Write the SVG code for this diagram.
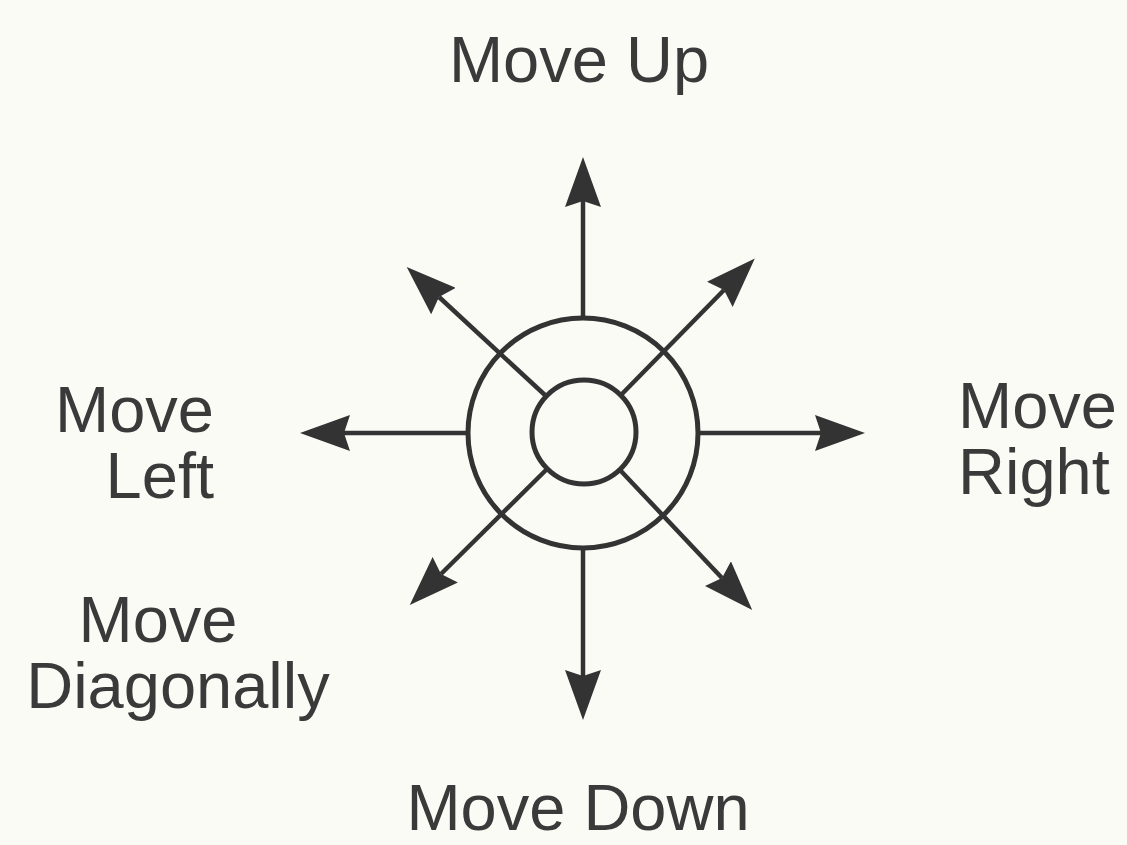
<svg xmlns="http://www.w3.org/2000/svg" width="1127" height="845" viewBox="0 0 1127 845">
  <style>
    .ring { fill: none; stroke: #333333; stroke-width: 5; }
    .conn { fill: none; stroke: #333333; stroke-width: 4.5; marker-end: url(#head); }
    .lbl { font-family: "Liberation Sans", Arial, sans-serif; font-size: 65px; fill: #3a3a3a; }
  </style>
  <defs>
    <marker id="head" viewBox="0 0 50 36" refX="6" refY="18" markerWidth="50" markerHeight="36" markerUnits="userSpaceOnUse" orient="auto">
      <path d="M0,0 L50,18 L0,36 L6,18 Z" fill="#333333"/>
    </marker>
  </defs>
  <rect x="0" y="0" width="1127" height="845" fill="#fbfbf6"/>

  <g id="connectors">
    <line class="conn" x1="583" y1="318" x2="583" y2="201"/>
    <line class="conn" x1="583" y1="548" x2="583" y2="676"/>
    <line class="conn" x1="468" y1="433" x2="344" y2="433"/>
    <line class="conn" x1="698" y1="433" x2="821" y2="433"/>
    <line class="conn" x1="546" y1="396" x2="439" y2="297"/>
    <line class="conn" x1="620" y1="396" x2="724" y2="290"/>
    <line class="conn" x1="546" y1="470" x2="441" y2="574"/>
    <line class="conn" x1="620" y1="470" x2="722" y2="578"/>
  </g>

  <g id="joystick">
    <circle class="ring" cx="583" cy="433" r="115"/>
    <circle class="ring" cx="584" cy="432" r="52"/>
  </g>

  <g id="label-up">
    <text class="lbl" x="579" y="82" text-anchor="middle">Move Up</text>
  </g>
  <g id="label-left">
    <text class="lbl" x="214" y="432" text-anchor="end">Move</text>
    <text class="lbl" x="214" y="498" text-anchor="end">Left</text>
  </g>
  <g id="label-right">
    <text class="lbl" x="958" y="428">Move</text>
    <text class="lbl" x="958" y="494">Right</text>
  </g>
  <g id="label-diagonal">
    <text class="lbl" x="158" y="642" text-anchor="middle">Move</text>
    <text class="lbl" x="178" y="708" text-anchor="middle">Diagonally</text>
  </g>
  <g id="label-down">
    <text class="lbl" x="578" y="830" text-anchor="middle">Move Down</text>
  </g>
</svg>
